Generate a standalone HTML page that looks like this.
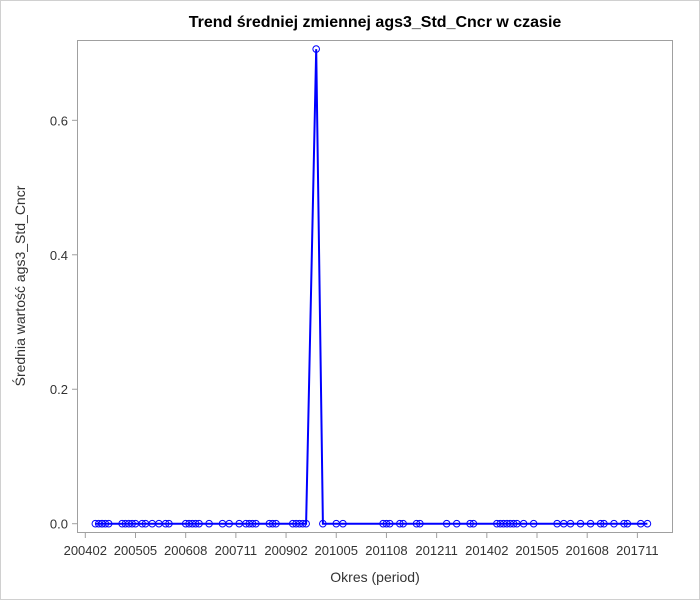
<!DOCTYPE html>
<html><head><meta charset="utf-8"><style>
body{margin:0;background:#fff;font-family:"Liberation Sans",Arial,sans-serif}
svg{display:block}
</style></head><body>
<svg id="chart" width="700" height="600">
<rect x="0.5" y="0.5" width="699" height="599" fill="#fff" stroke="#d0d0d0"/>
<text x="375" y="27" text-anchor="middle" font-size="16" font-weight="bold" fill="#000">Trend średniej zmiennej ags3_Std_Cncr w czasie</text>
<rect x="77.5" y="40.5" width="595" height="492" fill="none" stroke="#a0a0a0"/>
<g id="yaxis"></g>
<g id="xaxis"></g>
<text transform="translate(25,286) rotate(-90)" text-anchor="middle" font-size="14" fill="#333">Średnia wartość ags3_Std_Cncr</text>
<text x="375" y="582" text-anchor="middle" font-size="14" fill="#333">Okres (period)</text>
<g id="series"></g>
</svg>
<script>
const periods = [200405,200406,200407,200407,200408,200409,200501,200502,200503,200504,200505,200507,200508,200510,200512,200602,200603,200608,200609,200610,200611,200612,200703,200707,200709,200712,200802,200803,200804,200805,200809,200810,200811,200904,200905,200906,200907,200908,200911,201001,201005,201007,201107,201108,201109,201112,201201,201205,201206,201302,201305,201309,201310,201405,201406,201407,201408,201409,201410,201411,201501,201504,201511,201601,201603,201606,201609,201612,201701,201704,201707,201708,201712,201802];
const values = periods.map(p => p === 200911 ? 0.706 : 0);
const xTickLabels = ["200402","200505","200608","200711","200902","201005","201108","201211","201402","201505","201608","201711"];
const yTicks = [0.0, 0.2, 0.4, 0.6];

const NS="http://www.w3.org/2000/svg";
function mIdx(p){const y=Math.floor(p/100),m=p%100;return (y-2004)*12+(m-2);}
function xS(p){return 85.3+mIdx(p)*3.346;}
function yS(v){return 523.7-v*672.3;}
function mk(tag,attrs,parent){const e=document.createElementNS(NS,tag);for(const k in attrs)e.setAttribute(k,attrs[k]);parent.appendChild(e);return e;}
const ya=document.getElementById('yaxis'),xa=document.getElementById('xaxis'),se=document.getElementById('series');
yTicks.forEach(v=>{
  const y=yS(v);
  const t=mk('line',{x1:72,x2:77.5,y1:y,y2:y,stroke:'#a0a0a0'},ya);
  
  
  const l=mk('text',{x:68,y:y+5,'text-anchor':'end','font-size':13,fill:'#333'},ya);
  l.textContent=v.toFixed(1);
  
  
});
xTickLabels.forEach(s=>{
  const x=xS(parseInt(s));
  const t=mk('line',{x1:x,x2:x,y1:532.5,y2:538,stroke:'#a0a0a0'},xa);
  
  
  const l=mk('text',{x:x,y:555,'text-anchor':'middle','font-size':13,fill:'#333'},xa);
  l.textContent=s;
  
  
});
const pts=periods.map((p,i)=>xS(p).toFixed(1)+','+yS(values[i]).toFixed(1)).join(' ');
const line=mk('polyline',{points:pts,fill:'none',stroke:'#0000ff','stroke-width':2},se);


periods.forEach((p,i)=>{
  const c=mk('circle',{cx:xS(p),cy:yS(values[i]),r:3.3,fill:'none',stroke:'#0000ff','stroke-width':1},se);
  
  
});
</script>
</body></html>
